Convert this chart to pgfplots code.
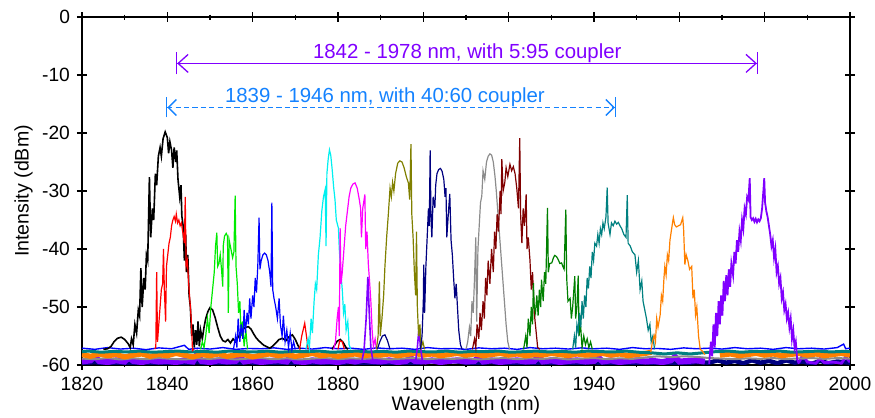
\documentclass[border=0pt]{standalone}
\usepackage{fontspec}
\setmainfont{Liberation Sans}
\usepackage{pgfplots}
\pgfplotsset{compat=1.18}
\usetikzlibrary{arrows.meta}

\definecolor{cBlack}{RGB}{0,0,0}
\definecolor{cRed}{RGB}{255,0,0}
\definecolor{cLime}{RGB}{0,235,0}
\definecolor{cBlue}{RGB}{0,0,255}
\definecolor{cCyan}{RGB}{0,240,240}
\definecolor{cMagenta}{RGB}{255,0,255}
\definecolor{cOlive}{RGB}{128,128,0}
\definecolor{cNavy}{RGB}{0,0,128}
\definecolor{cGray}{RGB}{140,140,140}
\definecolor{cMaroon}{RGB}{128,0,0}
\definecolor{cDkGreen}{RGB}{0,128,0}
\definecolor{cTeal}{RGB}{0,128,128}
\definecolor{cOrange}{RGB}{255,128,0}
\definecolor{cPurple}{RGB}{128,0,255}
\definecolor{cNote}{RGB}{20,130,255}

\begin{document}
\begin{tikzpicture}
\begin{axis}[
    scale only axis,
    width=384pt, height=174pt,
    xmin=1820, xmax=2000,
    ymin=-60, ymax=0,
    xtick={1820,1840,...,2000},
    xticklabels={1820,1840,1860,1880,1900,1920,1940,1960,1980,2000},
    minor x tick num=1,
    ytick={-60,-50,...,0},
    yticklabels={-60,-50,-40,-30,-20,-10,0},
    tick align=center,
    major tick length=5pt,
    minor tick length=2.5pt,
    axis line style={line width=0.7pt},
    every tick/.style={black, line width=0.7pt},
    ticklabel style={font=\fontsize{9.6}{10}\selectfont},
    xlabel={Wavelength (nm)},
    ylabel={Intensity (dBm)},
    label style={font=\fontsize{9.8}{10}\selectfont},
    xlabel style={at={(axis description cs:0.5,-0.115)}, anchor=center},
    ylabel style={at={(axis description cs:-0.076,0.5)}, anchor=center},
    clip=true,
]

% ---- noise floor ----
\addplot[cNavy, line width=2.2pt] coordinates {
(1820,-59.7)(1823,-59.5)(1826,-59.8)(1829,-59.6)(1832,-59.75)(1835,-59.55)(1838,-59.8)(1841,-59.6)(1844,-59.7)(1847,-59.5)(1850,-59.8)(1853,-59.65)(1856,-59.7)(1859,-59.5)(1862,-59.8)(1865,-59.6)(1868,-59.75)(1871,-59.55)(1874,-59.8)(1877,-59.6)(1880,-59.7)(1883,-59.5)(1886,-59.8)(1889,-59.6)(1892,-59.7)(1895,-59.55)(1898,-59.8)(1901,-59.3)(1904,-59.4)(1907,-59.3)(1910,-59.6)(1913,-59.7)(1916,-59.5)(1919,-59.8)(1922,-59.6)(1925,-59.7)(1928,-59.55)(1931,-59.8)(1934,-59.6)(1937,-59.7)(1940,-59.5)(1943,-59.8)(1946,-59.6)(1949,-59.7)(1952,-59.55)(1955,-59.8)(1958,-59.6)(1961,-59.7)(1964,-59.5)(1967,-59.6)(1969,-59.2)(1971,-59.6)(1973,-59.3)(1975,-59.7)(1977,-59.2)(1979,-59.6)(1981,-59.3)(1983,-59.7)(1985,-59.2)(1987,-59.6)(1989,-59.4)(1991,-59.8)(1993,-59.3)(1995,-59.7)(1997,-59.4)(2000,-59.6)
};
\addplot[cPurple, line width=3pt] coordinates {
(1820,-59.4)(1822,-59.2)(1823,-58.5)(1824,-59.3)(1826,-59.5)(1828,-59.2)(1830,-59.4)(1831,-58.7)(1832,-59.3)(1834,-59.5)(1836,-59.2)(1838,-59.4)(1840,-59.3)(1842,-59.5)(1844,-59.2)(1846,-59.4)(1847,-58.2)(1848,-59.3)(1850,-59.5)(1852,-59.2)(1854,-59.4)(1856,-59.3)(1857,-58.6)(1858,-59.4)(1860,-59.2)(1862,-59.5)(1864,-59.3)(1866,-59.2)(1868,-59.4)(1869,-58.4)(1870,-59.3)(1872,-59.5)(1874,-59.2)(1876,-59.4)(1878,-59.3)(1880,-59.5)(1882,-59.2)(1884,-59.4)(1886,-59.1)(1888,-59.3)(1890,-59.4)(1892,-59.2)(1894,-59.5)(1896,-59.3)(1897,-58.8)(1898,-59.3)(1900.5,-59.4)(1902,-59.2)(1904,-59.5)(1906,-59.3)(1908,-59.2)(1910,-59.4)(1912,-59.3)(1913,-58.6)(1914,-59.4)(1916,-59.2)(1918,-59.5)(1920,-59.3)(1922,-59.2)(1924,-59.4)(1926,-59.3)(1927,-58.5)(1928,-59.4)(1930,-59.2)(1932,-59.5)(1934,-59.3)(1936,-59.2)(1938,-59.4)(1940,-59.3)(1941,-58.7)(1942,-59.4)(1944,-59.2)(1946,-59.5)(1948,-59.3)(1950,-59.2)(1952,-59.4)(1954,-59.3)(1956,-59.5)(1958,-59.2)(1959,-58.6)(1960,-59.4)(1962,-59.3)(1964,-59.2)(1966,-59.4)
};
\addplot[cPurple, line width=1.4pt] coordinates {
(1988,-59.6)(1989,-58.2)(1990,-59.5)(1992,-59.7)(1993,-58.9)(1994,-59.6)(1996,-59.5)(1998,-59.7)(1999,-58.6)(2000,-59.5)
};
\addplot[cGray, line width=1pt] coordinates {
(1820,-58.9)(1823,-59.0)(1826,-58.8)(1829,-59.05)(1832,-58.85)(1835,-59.0)(1838,-58.8)(1841,-58.95)(1844,-59.05)(1847,-58.85)(1850,-58.95)(1853,-58.8)(1856,-59.05)(1859,-58.9)(1862,-58.8)(1865,-59.0)(1868,-58.85)(1871,-59.05)(1874,-58.9)(1877,-58.8)(1880,-59.0)(1883,-58.85)(1886,-58.95)(1889,-58.8)(1892,-59.05)(1895,-58.9)(1898,-58.8)(1901,-59.0)(1904,-58.85)(1907,-58.95)(1910,-58.8)(1913,-59.05)(1916,-58.9)(1919,-58.8)(1922,-59.0)(1925,-58.85)(1928,-58.95)(1931,-58.8)(1934,-59.05)(1937,-58.9)(1940,-58.8)(1943,-59.0)(1946,-58.85)(1949,-58.95)(1952,-58.7)(1955,-58.5)(1958,-58.65)(1961,-58.5)(1964,-58.6)(1967,-58.8)(1970,-58.9)(1973,-59.0)(1976,-58.85)(1979,-58.95)(1982,-58.8)(1985,-59.0)(1988,-58.85)(1991,-58.8)(1994,-58.95)(1997,-58.8)(2000,-58.9)
};
\addplot[cOrange, line width=2.6pt] coordinates {
(1820,-58.2)(1822,-58.5)(1824,-58.1)(1826,-58.4)(1828,-58.2)(1830,-58.6)(1832,-58.3)(1834,-58.1)(1836,-58.5)(1838,-58.2)(1840,-58.4)(1842,-58.0)(1844,-58.3)(1846,-58.6)(1848,-58.2)(1850,-58.4)(1852,-58.1)(1854,-58.5)(1856,-58.3)(1858,-58.2)(1860,-58.6)(1862,-58.3)(1864,-58.1)(1866,-58.4)(1868,-58.2)(1870,-58.5)(1872,-58.3)(1874,-58.0)(1876,-58.4)(1878,-58.2)(1880,-58.5)(1882,-58.3)(1884,-58.1)(1886,-58.4)(1888,-58.2)(1890,-58.3)(1892,-58.1)(1894,-58.4)(1896,-58.2)(1898,-58.0)(1900,-58.3)(1902,-58.1)(1904,-58.4)(1906,-58.2)(1908,-58.0)(1910,-58.3)(1912,-58.1)(1914,-58.4)(1916,-58.2)(1918,-58.0)(1920,-58.3)(1922,-58.1)(1924,-58.4)(1926,-58.2)(1928,-58.3)(1930,-58.0)(1932,-58.2)(1934,-58.4)(1936,-58.1)(1938,-58.3)(1940,-58.2)(1942,-58.0)(1944,-58.3)(1946,-58.1)(1948,-58.4)(1950,-58.2)(1952,-58.0)(1953.5,-57.8)
};
\addplot[cOrange, line width=2.6pt] coordinates {
(1969.5,-58.3)(1972,-58.1)(1974,-58.4)(1976,-58.2)(1978,-58.0)(1980,-58.3)(1982,-58.1)(1984,-58.4)(1986,-58.2)(1988,-58.0)(1990,-58.3)(1992,-58.1)(1994,-58.4)(1996,-58.2)(1998,-58.0)(2000,-58.3)
};
\addplot[cTeal, line width=1.5pt] coordinates {
(1820,-57.7)(1821.5,-57.6)(1824.5,-57.8)(1827.5,-57.65)(1830.5,-57.75)(1833.5,-57.6)(1836.5,-57.8)(1839.5,-57.7)(1842.5,-57.6)(1845.5,-57.75)(1848.5,-57.65)(1851.5,-57.8)(1854.5,-57.6)(1857.5,-57.7)(1860.5,-57.75)(1863.5,-57.6)(1866.5,-57.8)(1869.5,-57.65)(1872.5,-57.7)(1875.5,-57.6)(1878.5,-57.8)(1881.5,-57.7)(1884.5,-57.6)(1887.5,-57.75)(1890.5,-57.65)(1893.5,-57.8)(1896.5,-57.6)(1899.5,-57.7)(1902.5,-57.75)(1905.5,-57.6)(1908.5,-57.8)(1911.5,-57.65)(1914.5,-57.7)(1917.5,-57.6)(1920.5,-57.8)(1923.5,-57.7)(1926.5,-57.6)(1929.5,-57.75)(1932.5,-57.65)(1935.5,-57.8)(1938.5,-57.6)(1941.5,-57.7)(1944.5,-57.75)(1947.5,-57.6)(1950.5,-57.8)(1953.5,-57.9)(1956.5,-58.1)(1959.5,-57.9)(1962.5,-58.1)(1965.5,-57.9)(1968.5,-57.7)(1971.5,-57.6)(1974.5,-57.8)(1977.5,-57.65)(1980.5,-57.7)(1983.5,-57.6)(1986.5,-57.8)(1989.5,-57.7)(1992.5,-57.6)(1995.5,-57.75)(1998.5,-57.65)(2000,-57.7)
};
\addplot[cBlue, line width=0.7pt] coordinates {
(1820,-57.1)(1823,-57.3)(1826,-57.0)(1829,-57.25)(1832,-57.1)(1835,-57.35)(1838,-57.05)(1841,-57.2)(1844,-56.6)(1845,-57.3)(1847,-57.1)(1850,-57.25)(1853,-57.0)(1856,-57.3)(1859,-57.15)(1862,-57.2)(1865,-57.05)(1868,-57.3)(1871,-57.1)(1874,-57.25)(1877,-57.0)(1880,-57.2)(1883,-57.1)(1886,-57.3)(1889,-57.05)(1892,-57.2)(1895,-57.1)(1898,-57.3)(1901,-57.0)(1904,-57.2)(1907,-57.15)(1910,-57.3)(1913,-57.05)(1916,-57.2)(1919,-57.1)(1922,-57.3)(1925,-57.0)(1928,-57.2)(1931,-57.1)(1934,-57.25)(1937,-57.05)(1940,-57.2)(1943,-57.1)(1946,-57.3)(1949,-57.0)(1952,-57.2)(1955,-57.15)(1958,-57.3)(1961,-57.05)(1964,-57.2)(1967,-57.1)(1970,-57.25)(1973,-57.0)(1976,-57.2)(1979,-57.1)(1982,-57.3)(1985,-57.0)(1988,-57.2)(1991,-57.1)(1994,-57.25)(1997,-57.0)(1998.5,-56.4)(1999,-57.2)(2000,-57.1)
};

% ---- spectra ----
\addplot[cBlack, line width=0.8pt] coordinates {
(1825,-57.3)(1826,-57.2)(1826.8,-56.8)(1827.5,-56)(1828.3,-55.4)(1829.2,-55.2)(1830,-55.6)(1830.8,-56.3)(1831.3,-57)(1831.6,-55.5)(1832,-56.5)(1832.4,-53)(1832.8,-54.5)(1833.2,-50.5)(1833.5,-51.5)(1833.8,-43.3)(1834.1,-50)(1834.5,-45)(1834.8,-47)(1835.1,-41)(1835.4,-42)(1835.8,-27.6)(1836.1,-38)(1836.5,-33)(1836.8,-35)(1837.2,-27)(1837.5,-29)(1837.9,-24)(1838.3,-22.5)(1838.6,-24)(1839,-21)(1839.5,-19.8)(1840,-20.8)(1840.3,-23.5)(1840.6,-21.5)(1841,-23)(1841.3,-26)(1841.6,-22.5)(1842,-25)(1842.2,-23)(1842.5,-28)(1842.9,-31)(1843.2,-29)(1843.4,-34.3)(1843.7,-36)(1844,-42)(1844.3,-37.5)(1844.5,-44)(1844.8,-41)(1845.1,-48)(1845.4,-50)(1845.7,-55)(1846,-53)(1846.3,-57)(1846.6,-54)(1846.9,-56.5)(1847.2,-52.5)(1847.5,-56.8)(1847.8,-54)(1848.2,-55.5)(1848.6,-53.5)(1849,-52)(1849.5,-50.8)(1850,-50.1)(1850.6,-50.5)(1851.2,-51.8)(1851.8,-53.5)(1852.4,-55)(1853,-55.8)(1853.6,-56)(1854.2,-55.6)(1854.8,-56.2)(1855.4,-55.5)(1856,-56)(1856.6,-55.2)(1857.2,-54.5)(1857.8,-53.8)(1858.4,-53.5)(1859,-53.4)(1859.6,-53.8)(1860.2,-54.6)(1860.8,-55.3)(1861.4,-55.8)(1862,-56.2)(1862.6,-56.6)(1863.2,-56.8)(1864,-57.1)(1864.6,-56.8)(1865.4,-56.2)(1866.2,-55.6)(1867,-55.4)(1867.8,-55.8)(1868.4,-55.2)(1869.3,-54.8)(1870,-55.6)(1870.6,-56.6)(1871.2,-57.3)
};
\addplot[cBlack, line width=0.8pt] coordinates {
(1878.6,-57.3)(1879.2,-56.6)(1879.8,-55.9)(1880.5,-55.6)(1881.2,-56.1)(1881.8,-56.9)(1882.3,-57.3)
};
\addplot[cRed, line width=0.6pt] coordinates {
(1837,-57.2)(1837.3,-57)(1837.5,-44)(1837.7,-56)(1838,-53)(1838.3,-50)(1838.6,-47)(1838.9,-46)(1839.1,-40)(1839.3,-47)(1839.6,-52.5)(1839.8,-43)(1840.1,-41)(1840.4,-39)(1840.7,-38)(1841,-36)(1841.3,-35)(1841.6,-34.4)(1841.9,-35.2)(1842.1,-34)(1842.4,-35.5)(1842.7,-35)(1843,-36)(1843.3,-35.5)(1843.6,-37)(1844,-39)(1844.2,-31)(1844.4,-43)(1844.7,-42)(1845,-46)(1845.3,-49)(1845.6,-52)(1845.9,-57.5)(1846.3,-57.2)
};
\addplot[cRed, line width=0.6pt] coordinates {
(1871,-57.3)(1871.5,-55)(1872.2,-52.8)(1872.7,-55.5)(1873,-57.3)
};
\addplot[cRed, line width=0.6pt] coordinates {
(1880,-57.3)(1880.4,-55.8)(1881,-56)(1881.5,-57.3)
};
\addplot[cLime, line width=0.6pt] coordinates {
(1847.8,-57.3)(1848.2,-56)(1848.6,-57)(1849,-55)(1849.4,-52)(1849.8,-54.5)(1850.2,-50)(1850.6,-47)(1851,-44)(1851.3,-39.5)(1851.6,-37.2)(1851.8,-43)(1852.1,-42.5)(1852.4,-41)(1852.7,-43.5)(1853,-46.5)(1853.1,-39.5)(1853.4,-37.8)(1853.8,-37.3)(1854.1,-37.8)(1854.3,-51)(1854.5,-38.5)(1854.9,-40)(1855.3,-41.5)(1855.6,-40.5)(1855.9,-30.8)(1856.1,-43)(1856.4,-46)(1856.7,-51)(1857,-49)(1857.3,-55)(1857.6,-52.5)(1858,-56.8)(1858.4,-54)(1858.8,-57.3)
};
\addplot[cBlue, line width=0.6pt] coordinates {
(1855.5,-57.3)(1856,-55)(1856.3,-57)(1856.6,-52)(1857,-56)(1857.3,-53)(1857.7,-55.5)(1858,-50.5)(1858.3,-54.5)(1858.7,-51)(1859,-53)(1859.3,-48.5)(1859.6,-52)(1860,-48)(1860.3,-50)(1860.6,-45)(1860.9,-47.5)(1861.2,-43)(1861.5,-34.6)(1861.7,-43.5)(1862,-42)(1862.4,-41)(1862.8,-40.7)(1863.2,-41)(1863.6,-42)(1864,-44)(1864.3,-46.5)(1864.5,-32)(1864.7,-47)(1865,-48.5)(1865.4,-50)(1865.8,-52)(1866.2,-48.5)(1866.5,-53)(1866.9,-55)(1867.2,-51.5)(1867.6,-56)(1868,-54)(1868.4,-57)(1868.8,-54.5)(1869.2,-57.3)(1869.6,-56)(1870,-57.3)
};
\addplot[cCyan, line width=0.6pt] coordinates {
(1872.5,-57.3)(1873,-55.5)(1873.3,-57)(1873.7,-52)(1874,-54.5)(1874.4,-49)(1874.7,-46)(1875,-47)(1875.4,-41)(1875.8,-38)(1876.2,-33.5)(1876.6,-31)(1877,-29.7)(1877.2,-39.5)(1877.4,-27)(1877.7,-24.5)(1878,-22.9)(1878.3,-23.8)(1878.6,-26)(1879,-29.5)(1879.3,-31.5)(1879.6,-35)(1880.1,-36.4)(1880.3,-40)(1880.6,-43.5)(1881,-47)(1881.3,-51)(1881.6,-49.5)(1881.9,-54)(1882.3,-52.5)(1882.6,-56.5)(1883,-57.3)
};
\addplot[cMagenta, line width=0.6pt] coordinates {
(1879,-57.3)(1879.4,-56)(1879.8,-52)(1880.1,-50)(1880.3,-55)(1880.5,-36.4)(1880.7,-46)(1881,-44)(1881.4,-40)(1881.8,-36)(1882.2,-33.5)(1882.6,-31)(1883,-29.5)(1883.5,-28.8)(1884,-28.6)(1884.5,-29.5)(1885,-31.5)(1885.3,-33)(1885.5,-38)(1885.8,-33)(1886.3,-30.6)(1886.5,-40)(1886.8,-37)(1887.1,-42.5)(1887.4,-45.6)(1887.7,-49)(1888,-54)(1888.3,-56.8)(1888.7,-55.5)(1889,-57.3)
};
\addplot[cPurple, line width=0.8pt] coordinates {
(1885.6,-59.3)(1886.1,-57.5)(1886.6,-52)(1887,-44.8)(1887.3,-50.5)(1887.7,-57)(1888.2,-59.4)
};
\addplot[cPurple, line width=0.8pt] coordinates {
(1898.2,-59.3)(1898.6,-57)(1899,-53.6)(1899.3,-56.8)(1899.8,-59.4)
};
\addplot[cNavy, line width=0.6pt] coordinates {
(1889.2,-57.3)(1889.8,-56)(1890.4,-55)(1891,-54.8)(1891.6,-55.8)(1892.2,-57.3)
};
\addplot[cOlive, line width=0.6pt] coordinates {
(1889,-57.3)(1889.4,-55)(1889.7,-45.6)(1889.9,-55)(1890.3,-52)(1890.7,-48)(1891,-43)(1891.4,-38)(1891.8,-34)(1892.2,-29.5)(1892.5,-31)(1892.8,-28.5)(1893.1,-30)(1893.5,-27)(1894,-25.2)(1894.5,-24.8)(1895,-25)(1895.5,-26)(1896,-27.5)(1896.5,-28.6)(1896.8,-31.5)(1897.1,-21.9)(1897.3,-34)(1897.6,-38)(1897.9,-44)(1898.2,-48)(1898.4,-37)(1898.6,-50)(1898.9,-55)(1899.2,-53)(1899.5,-57)(1899.9,-56)(1900.3,-57.3)
};
\addplot[cNavy, line width=0.6pt] coordinates {
(1899.3,-57.3)(1899.7,-55)(1900,-49)(1900.1,-42.7)(1900.3,-51)(1900.6,-43)(1900.9,-38)(1901.2,-33)(1901.4,-36)(1901.6,-23)(1901.8,-35)(1902,-38)(1902.3,-31)(1902.7,-32.9)(1902.9,-29)(1903.2,-27)(1903.6,-26.3)(1904,-26.1)(1904.4,-26.6)(1904.8,-28)(1905.1,-31)(1905.3,-29.5)(1905.5,-38)(1905.9,-33.5)(1906.2,-30.5)(1906.5,-38.5)(1906.8,-41)(1907.1,-45)(1907.4,-48.5)(1907.7,-46)(1908,-50)(1908.3,-54)(1908.7,-56.5)(1909.1,-57.3)
};
\addplot[cGray, line width=0.6pt] coordinates {
(1910,-57.3)(1910.4,-56)(1910.8,-53.5)(1911.1,-55)(1911.4,-49)(1911.7,-51)(1912,-45)(1912.3,-38)(1912.5,-52.5)(1912.8,-40)(1913.1,-36)(1913.4,-32)(1913.7,-30.9)(1914,-26.5)(1914.4,-28)(1914.8,-25)(1915.2,-24)(1915.6,-23.6)(1916,-23.8)(1916.4,-25)(1916.8,-27.5)(1917.1,-30)(1917.4,-33)(1917.8,-37)(1918.2,-41)(1918.6,-45)(1919,-49)(1919.4,-53)(1919.8,-56)(1920.2,-57.3)
};
\addplot[cMaroon, line width=0.6pt] coordinates {
(1911.5,-57.3)(1912,-55.5)(1912.3,-57)(1912.6,-53)(1913,-55.5)(1913.3,-51)(1913.6,-54)(1914,-49)(1914.3,-52)(1914.6,-45)(1914.9,-48)(1915.2,-42)(1915.6,-46)(1916,-40)(1916.4,-44)(1916.7,-37)(1917,-40)(1917.3,-34)(1917.6,-37)(1918,-30)(1918.2,-34)(1918.4,-24.5)(1918.7,-30)(1919.1,-28.5)(1919.4,-26)(1919.8,-27.5)(1920.3,-25.4)(1920.7,-26.5)(1921.1,-25.8)(1921.5,-27)(1921.9,-29.5)(1922.3,-33)(1922.6,-20.9)(1922.8,-34)(1923.1,-39)(1923.4,-33)(1923.7,-36)(1924.1,-30.6)(1924.3,-40)(1924.6,-38)(1925,-42)(1925.3,-47)(1925.6,-44)(1926,-51)(1926.4,-54)(1926.8,-57)(1927.3,-57.3)
};
\addplot[cDkGreen, line width=0.6pt] coordinates {
(1923.5,-57.3)(1924,-55)(1924.3,-57)(1924.6,-52)(1925,-55)(1925.3,-50)(1925.6,-53)(1925.8,-45.9)(1926,-50)(1926.3,-51)(1926.6,-48)(1926.9,-51.5)(1927.2,-47)(1927.5,-50)(1927.7,-45.3)(1928.1,-49)(1928.4,-44)(1928.7,-46)(1929.1,-32.9)(1929.3,-44)(1929.6,-42.5)(1930.1,-42.4)(1930.5,-41.5)(1930.8,-41.1)(1931.2,-41.3)(1931.6,-41.8)(1932,-42.5)(1932.4,-42.4)(1932.7,-43)(1933,-43.5)(1933.4,-33.2)(1933.6,-45)(1933.9,-49)(1934.4,-48.5)(1934.7,-52)(1935,-50)(1935.5,-44.7)(1935.7,-52)(1936,-50)(1936.3,-44.6)(1936.5,-55)(1936.8,-52.5)(1937.2,-57)(1937.6,-55)(1938,-56.5)(1938.4,-55.5)(1938.8,-57)(1939.2,-56)(1939.6,-57.3)
};
\addplot[cTeal, line width=0.6pt] coordinates {
(1935,-57.3)(1935.4,-55)(1935.7,-57)(1936,-53)(1936.3,-54.3)(1936.6,-51)(1936.9,-53.5)(1937.2,-49)(1937.5,-52)(1937.8,-48)(1938.1,-50)(1938.4,-45)(1938.7,-46.8)(1939,-43)(1939.3,-45)(1939.6,-40.5)(1939.9,-42)(1940.2,-39)(1940.6,-39.5)(1940.9,-37.5)(1941.2,-39)(1941.5,-36.5)(1941.8,-37.5)(1942.1,-35.5)(1942.4,-36.5)(1942.8,-34.5)(1943.1,-29.4)(1943.3,-35.5)(1943.75,-37.5)(1944.1,-35.5)(1944.5,-36)(1944.9,-35.2)(1945.3,-35.7)(1945.7,-35.4)(1946.1,-36)(1946.5,-36.5)(1947,-37.5)(1947.5,-38)(1947.8,-30.7)(1948,-39)(1948.5,-39.5)(1949,-40.5)(1949.6,-41)(1950,-44)(1950.4,-42)(1950.8,-47)(1951.2,-45.5)(1951.5,-49)(1951.9,-50.5)(1952.3,-52)(1952.7,-54)(1953.1,-53)(1953.4,-56)(1953.8,-55)(1954.2,-57.3)
};
\addplot[cOrange, line width=0.6pt] coordinates {
(1953.3,-57.8)(1953.7,-56)(1954.1,-54.9)(1954.4,-56)(1954.7,-52)(1955,-53.5)(1955.5,-51.4)(1955.8,-48)(1956.1,-49)(1956.4,-45)(1956.6,-43)(1956.9,-44.5)(1957.2,-41)(1957.5,-42)(1957.8,-38.5)(1958.1,-37)(1958.4,-35.5)(1958.6,-34.6)(1958.9,-35.8)(1959.3,-36.2)(1959.8,-36)(1960.3,-35.8)(1960.8,-34.6)(1961,-36.5)(1961.3,-42.7)(1961.6,-41)(1962,-42)(1962.4,-43.5)(1962.9,-43)(1963.2,-48.5)(1963.5,-47)(1963.8,-51.4)(1964.1,-50)(1964.5,-55)(1964.9,-57.3)(1965.4,-57.6)(1966,-58.2)
};
\addplot[cPurple, line width=0.9pt] coordinates {
(1967,-59.8)(1967.4,-56)(1967.7,-58.5)(1968,-53)(1968.3,-57)(1968.6,-51)(1968.9,-55)(1969.2,-49)(1969.5,-53)(1969.8,-48)(1970.1,-51.5)(1970.4,-45.5)(1970.7,-49)(1971,-44.5)(1971.3,-48)(1971.6,-43.5)(1971.9,-46.5)(1972.2,-42.5)(1972.6,-44.5)(1972.9,-40.5)(1973.2,-42.5)(1973.5,-38.5)(1973.8,-40.5)(1974.1,-37)(1974.4,-38.5)(1974.7,-35)(1975,-36.5)(1975.3,-33)(1975.6,-34)(1975.9,-31)(1976.2,-31.5)(1976.5,-27.8)(1976.7,-34.5)(1977,-35)(1977.3,-34.7)(1977.6,-35.3)(1977.9,-34.8)(1978.2,-35.4)(1978.5,-34.9)(1978.8,-35.2)(1979.1,-34.7)(1979.4,-33)(1979.7,-30)(1979.9,-27.8)(1980.1,-32)(1980.4,-33.5)(1980.7,-34.5)(1981,-36)(1981.3,-37.5)(1981.6,-39.5)(1981.9,-38.5)(1982.2,-41.5)(1982.5,-40)(1982.8,-44)(1983.1,-43)(1983.4,-46)(1983.7,-45)(1984,-48.5)(1984.3,-47.5)(1984.6,-50.5)(1984.9,-49.5)(1985.2,-52)(1985.5,-51)(1985.8,-53.5)(1986.1,-52)(1986.4,-55.5)(1986.7,-54)(1987,-57)(1987.3,-56)(1987.6,-59)(1988,-59.8)
};

% ---- annotations ----
\draw[cPurple, line width=0.65pt,
  {Bar[width=11pt]Straight Barb[length=5pt,width=9pt]}-{Straight Barb[length=5pt,width=9pt]Bar[width=11pt]}]
  (axis cs:1842,-8) -- (axis cs:1978.5,-8);
\node[cPurple, anchor=base, font=\fontsize{10.2}{11}\selectfont, inner sep=0pt]
  at (axis cs:1910.3,-7.1) {1842 - 1978 nm, with 5:95 coupler};
\draw[cNote, line width=0.7pt, dash pattern=on 2.6pt off 1.6pt,
  {Bar[width=10pt]Straight Barb[length=4pt,width=8pt]}-{Straight Barb[length=4pt,width=8pt]Bar[width=10pt]}]
  (axis cs:1839.7,-15.6) -- (axis cs:1945.2,-15.6);
\node[cNote, anchor=base, font=\fontsize{10.2}{11}\selectfont, inner sep=0pt]
  at (axis cs:1891,-14.7) {1839 - 1946 nm, with 40:60 coupler};
\end{axis}
\pgfresetboundingbox
\path[use as bounding box] (-41pt,-26.5pt) rectangle (396.5pt,182.5pt);
\end{tikzpicture}
\end{document}
